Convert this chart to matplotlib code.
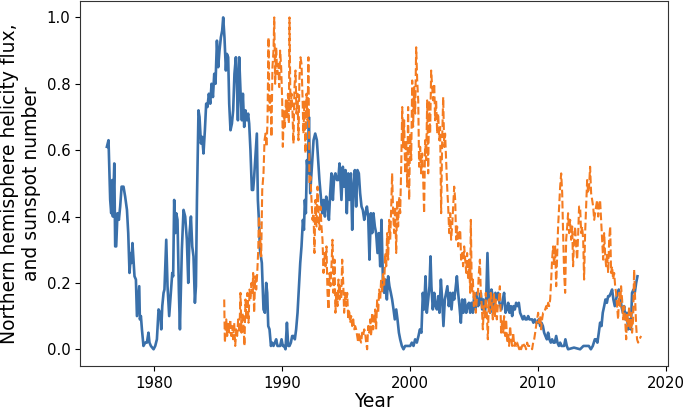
import numpy as np
import matplotlib
matplotlib.use('Agg')
import matplotlib.pyplot as plt

# helicity flux (northern hemisphere), normalised
helicity_year = [
    1976.30, 1976.43, 1976.56, 1976.64, 1976.72, 1976.77, 1976.88, 1976.95, 1977.03, 1977.13,
    1977.24, 1977.34, 1977.45, 1977.60, 1977.73, 1977.87, 1977.97, 1978.07, 1978.18, 1978.23,
    1978.30, 1978.38, 1978.46, 1978.57, 1978.65, 1978.75, 1978.83, 1978.88, 1978.96, 1979.04,
    1979.16, 1979.30, 1979.43, 1979.55, 1979.63, 1979.74, 1979.95, 1980.08, 1980.21, 1980.34,
    1980.47, 1980.55, 1980.63, 1980.73, 1980.80, 1980.94, 1981.04, 1981.17, 1981.30, 1981.41,
    1981.48, 1981.56, 1981.64, 1981.72, 1981.82, 1981.93, 1982.01, 1982.16, 1982.29, 1982.42,
    1982.55, 1982.66, 1982.76, 1982.87, 1982.97, 1983.07, 1983.18, 1983.26, 1983.34, 1983.46,
    1983.54, 1983.65, 1983.75, 1983.85, 1983.96, 1984.06, 1984.16, 1984.27, 1984.38, 1984.48,
    1984.59, 1984.69, 1984.79, 1984.90, 1985.00, 1985.10, 1985.21, 1985.31, 1985.39, 1985.49,
    1985.60, 1985.68, 1985.78, 1985.86, 1985.96, 1986.07, 1986.17, 1986.27, 1986.38, 1986.46,
    1986.54, 1986.64, 1986.74, 1986.85, 1986.93, 1987.03, 1987.13, 1987.24, 1987.34, 1987.42,
    1987.52, 1987.63, 1987.73, 1987.81, 1987.91, 1988.02, 1988.10, 1988.18, 1988.26, 1988.41,
    1988.54, 1988.65, 1988.75, 1988.83, 1988.91, 1989.01, 1989.12, 1989.22, 1989.32, 1989.43,
    1989.53, 1989.63, 1989.74, 1989.84, 1989.95, 1990.05, 1990.16, 1990.26, 1990.37, 1990.47,
    1990.57, 1990.68, 1990.78, 1990.88, 1990.99, 1991.09, 1991.20, 1991.30, 1991.41, 1991.51,
    1991.62, 1991.70, 1991.77, 1991.85, 1991.93, 1992.01, 1992.09, 1992.19, 1992.32, 1992.45,
    1992.58, 1992.71, 1992.81, 1992.91, 1993.02, 1993.13, 1993.23, 1993.34, 1993.44, 1993.54,
    1993.65, 1993.75, 1993.85, 1993.96, 1994.06, 1994.16, 1994.27, 1994.38, 1994.48, 1994.63,
    1994.74, 1994.84, 1994.95, 1995.05, 1995.16, 1995.26, 1995.37, 1995.47, 1995.57, 1995.68,
    1995.78, 1995.88, 1995.99, 1996.09, 1996.20, 1996.30, 1996.41, 1996.51, 1996.62, 1996.72,
    1996.82, 1996.93, 1997.03, 1997.13, 1997.24, 1997.34, 1997.45, 1997.55, 1997.66, 1997.76,
    1997.87, 1997.97, 1998.07, 1998.18, 1998.28, 1998.38, 1998.49, 1998.59, 1998.70, 1998.80,
    1998.91, 1999.01, 1999.12, 1999.22, 1999.35, 1999.48, 1999.61, 1999.74, 1999.87, 2000.00,
    2000.13, 2000.26, 2000.39, 2000.52, 2000.65, 2000.76, 2000.88, 2000.99, 2001.09, 2001.20,
    2001.30, 2001.41, 2001.51, 2001.59, 2001.66, 2001.77, 2001.88, 2001.98, 2002.09, 2002.19,
    2002.29, 2002.40, 2002.50, 2002.60, 2002.71, 2002.81, 2002.91, 2003.02, 2003.13, 2003.23,
    2003.34, 2003.44, 2003.54, 2003.65, 2003.75, 2003.85, 2003.96, 2004.06, 2004.16, 2004.27,
    2004.38, 2004.48, 2004.59, 2004.69, 2004.79, 2004.90, 2005.00, 2005.10, 2005.21, 2005.31,
    2005.41, 2005.52, 2005.63, 2005.73, 2005.84, 2005.94, 2006.04, 2006.15, 2006.25, 2006.35,
    2006.46, 2006.56, 2006.66, 2006.77, 2006.88, 2006.98, 2007.13, 2007.24, 2007.34, 2007.45,
    2007.55, 2007.66, 2007.76, 2007.87, 2007.97, 2008.07, 2008.18, 2008.28, 2008.38, 2008.49,
    2008.59, 2008.70, 2008.80, 2008.91, 2009.01, 2009.12, 2009.22, 2009.32, 2009.43, 2009.53,
    2009.63, 2009.74, 2009.84, 2009.95, 2010.05, 2010.16, 2010.26, 2010.37, 2010.47, 2010.57,
    2010.68, 2010.78, 2010.88, 2010.99, 2011.09, 2011.20, 2011.30, 2011.41, 2011.51, 2011.62,
    2011.72, 2011.82, 2011.93, 2012.03, 2012.13, 2012.24, 2012.34, 2012.80, 2013.28, 2013.54,
    2013.80, 2013.96, 2014.12, 2014.27, 2014.43, 2014.53, 2014.63, 2014.74, 2014.84, 2014.95,
    2015.05, 2015.16, 2015.26, 2015.37, 2015.47, 2015.57, 2015.68, 2015.78, 2015.88, 2015.99,
    2016.09, 2016.20, 2016.30, 2016.41, 2016.51, 2016.62, 2016.72, 2016.82, 2016.93, 2017.03,
    2017.13, 2017.24, 2017.34, 2017.45, 2017.55, 2017.66, 2017.76,
]
helicity = [
    0.61, 0.63, 0.45, 0.41, 0.51, 0.40, 0.56, 0.31, 0.31, 0.41,
    0.39, 0.43, 0.49, 0.49, 0.46, 0.42, 0.35, 0.23, 0.29, 0.26,
    0.32, 0.27, 0.22, 0.21, 0.10, 0.15, 0.19, 0.09, 0.10, 0.06,
    0.01, 0.02, 0.02, 0.05, 0.02, 0.01, 0.00, 0.01, 0.03, 0.12,
    0.11, 0.06, 0.13, 0.17, 0.18, 0.33, 0.19, 0.10, 0.17, 0.23,
    0.22, 0.45, 0.35, 0.41, 0.39, 0.17, 0.06, 0.30, 0.42, 0.40,
    0.33, 0.20, 0.35, 0.40, 0.31, 0.28, 0.14, 0.19, 0.45, 0.72,
    0.70, 0.62, 0.64, 0.59, 0.66, 0.74, 0.73, 0.77, 0.74, 0.80,
    0.76, 0.83, 0.80, 0.93, 0.85, 0.90, 0.94, 0.96, 1.00, 0.94,
    0.84, 0.89, 0.88, 0.74, 0.66, 0.68, 0.72, 0.83, 0.88, 0.80,
    0.69, 0.88, 0.78, 0.69, 0.77, 0.67, 0.72, 0.69, 0.71, 0.68,
    0.60, 0.48, 0.48, 0.52, 0.58, 0.65, 0.45, 0.39, 0.30, 0.26,
    0.12, 0.11, 0.20, 0.17, 0.07, 0.06, 0.01, 0.02, 0.01, 0.02,
    0.03, 0.01, 0.01, 0.01, 0.03, 0.01, 0.01, 0.00, 0.08, 0.01,
    0.01, 0.02, 0.04, 0.04, 0.03, 0.06, 0.11, 0.18, 0.26, 0.31,
    0.39, 0.36, 0.45, 0.41, 0.57, 0.53, 0.70, 0.47, 0.55, 0.63,
    0.65, 0.63, 0.57, 0.51, 0.46, 0.41, 0.45, 0.40, 0.46, 0.44,
    0.39, 0.47, 0.53, 0.45, 0.52, 0.53, 0.51, 0.51, 0.56, 0.45,
    0.55, 0.49, 0.54, 0.41, 0.53, 0.45, 0.53, 0.36, 0.49, 0.54,
    0.43, 0.54, 0.53, 0.47, 0.43, 0.42, 0.39, 0.41, 0.43, 0.40,
    0.27, 0.41, 0.35, 0.41, 0.37, 0.35, 0.29, 0.35, 0.25, 0.39,
    0.21, 0.17, 0.21, 0.15, 0.22, 0.19, 0.17, 0.15, 0.12, 0.09,
    0.12, 0.09, 0.05, 0.03, 0.01, 0.00, 0.01, 0.01, 0.01, 0.01,
    0.02, 0.01, 0.03, 0.02, 0.04, 0.06, 0.05, 0.17, 0.12, 0.22,
    0.11, 0.15, 0.19, 0.28, 0.19, 0.12, 0.17, 0.13, 0.12, 0.16,
    0.11, 0.21, 0.15, 0.07, 0.15, 0.17, 0.19, 0.13, 0.17, 0.12,
    0.17, 0.15, 0.18, 0.22, 0.17, 0.13, 0.08, 0.15, 0.11, 0.15,
    0.11, 0.13, 0.14, 0.11, 0.14, 0.11, 0.16, 0.12, 0.17, 0.13,
    0.14, 0.17, 0.12, 0.15, 0.11, 0.15, 0.29, 0.15, 0.11, 0.18,
    0.16, 0.11, 0.17, 0.15, 0.17, 0.14, 0.12, 0.15, 0.17, 0.11,
    0.12, 0.14, 0.11, 0.13, 0.10, 0.13, 0.12, 0.14, 0.13, 0.14,
    0.11, 0.10, 0.09, 0.10, 0.09, 0.09, 0.10, 0.09, 0.09, 0.09,
    0.08, 0.09, 0.08, 0.08, 0.09, 0.07, 0.08, 0.07, 0.05, 0.04,
    0.03, 0.05, 0.03, 0.02, 0.03, 0.02, 0.02, 0.04, 0.02, 0.01,
    0.02, 0.01, 0.01, 0.01, 0.03, 0.01, 0.00, 0.005, 0.00, 0.01,
    0.01, 0.01, 0.00, 0.01, 0.03, 0.03, 0.02, 0.05, 0.08, 0.07,
    0.11, 0.13, 0.15, 0.14, 0.16, 0.16, 0.17, 0.18, 0.15, 0.13,
    0.15, 0.17, 0.18, 0.16, 0.13, 0.11, 0.13, 0.09, 0.11, 0.06,
    0.09, 0.06, 0.17, 0.18, 0.17, 0.20, 0.22,
]

# sunspot number, normalised
sunspot_year = [
    1985.47, 1985.52, 1985.63, 1985.70, 1985.78, 1985.86, 1985.94, 1986.02, 1986.09, 1986.17,
    1986.25, 1986.33, 1986.41, 1986.48, 1986.56, 1986.66, 1986.74, 1986.82, 1986.90, 1986.98,
    1987.05, 1987.13, 1987.21, 1987.29, 1987.37, 1987.45, 1987.52, 1987.60, 1987.68, 1987.73,
    1987.81, 1987.89, 1987.97, 1988.05, 1988.13, 1988.18, 1988.26, 1988.36, 1988.44, 1988.54,
    1988.62, 1988.70, 1988.77, 1988.85, 1988.93, 1989.01, 1989.09, 1989.16, 1989.24, 1989.32,
    1989.38, 1989.45, 1989.53, 1989.61, 1989.69, 1989.77, 1989.84, 1989.92, 1990.00, 1990.05,
    1990.13, 1990.21, 1990.29, 1990.37, 1990.45, 1990.52, 1990.57, 1990.65, 1990.73, 1990.80,
    1990.88, 1990.96, 1991.04, 1991.12, 1991.20, 1991.27, 1991.35, 1991.43, 1991.51, 1991.59,
    1991.66, 1991.74, 1991.82, 1991.90, 1991.98, 1992.05, 1992.13, 1992.21, 1992.29, 1992.37,
    1992.45, 1992.52, 1992.60, 1992.68, 1992.76, 1992.84, 1992.91, 1992.99, 1993.07, 1993.15,
    1993.23, 1993.30, 1993.38, 1993.46, 1993.54, 1993.62, 1993.70, 1993.77, 1993.85, 1993.93,
    1994.01, 1994.09, 1994.16, 1994.24, 1994.32, 1994.40, 1994.48, 1994.53, 1994.61, 1994.69,
    1994.77, 1994.84, 1994.92, 1995.00, 1995.08, 1995.16, 1995.23, 1995.31, 1995.39, 1995.47,
    1995.55, 1995.63, 1995.70, 1995.78, 1995.86, 1995.94, 1996.02, 1996.09, 1996.17, 1996.25,
    1996.33, 1996.41, 1996.48, 1996.56, 1996.64, 1996.72, 1996.80, 1996.88, 1996.95, 1997.03,
    1997.11, 1997.19, 1997.27, 1997.34, 1997.42, 1997.50, 1997.58, 1997.66, 1997.73, 1997.81,
    1997.89, 1997.97, 1998.05, 1998.13, 1998.20, 1998.28, 1998.36, 1998.44, 1998.52, 1998.59,
    1998.67, 1998.75, 1998.83, 1998.91, 1998.98, 1999.06, 1999.14, 1999.22, 1999.30, 1999.38,
    1999.45, 1999.53, 1999.61, 1999.69, 1999.77, 1999.84, 1999.92, 2000.00, 2000.08, 2000.16,
    2000.23, 2000.31, 2000.39, 2000.47, 2000.55, 2000.63, 2000.70, 2000.78, 2000.86, 2000.94,
    2001.02, 2001.09, 2001.17, 2001.25, 2001.33, 2001.41, 2001.48, 2001.56, 2001.64, 2001.72,
    2001.80, 2001.88, 2001.95, 2002.03, 2002.11, 2002.19, 2002.27, 2002.34, 2002.42, 2002.50,
    2002.58, 2002.66, 2002.73, 2002.81, 2002.89, 2002.97, 2003.05, 2003.13, 2003.20, 2003.28,
    2003.36, 2003.44, 2003.52, 2003.59, 2003.67, 2003.75, 2003.83, 2003.91, 2003.98, 2004.06,
    2004.14, 2004.22, 2004.30, 2004.38, 2004.45, 2004.53, 2004.61, 2004.69, 2004.74, 2004.82,
    2004.90, 2004.98, 2005.05, 2005.13, 2005.21, 2005.29, 2005.37, 2005.45, 2005.52, 2005.60,
    2005.68, 2005.76, 2005.84, 2005.91, 2005.99, 2006.07, 2006.15, 2006.23, 2006.30, 2006.38,
    2006.46, 2006.54, 2006.62, 2006.70, 2006.77, 2006.85, 2006.93, 2007.01, 2007.11, 2007.19,
    2007.27, 2007.34, 2007.42, 2007.50, 2007.58, 2007.66, 2007.73, 2007.81, 2007.89, 2007.97,
    2008.05, 2008.13, 2008.20, 2008.28, 2008.36, 2008.44, 2008.52, 2008.59, 2008.67, 2008.75,
    2008.83, 2008.91, 2008.98, 2009.06, 2009.14, 2009.22, 2009.30, 2009.38, 2009.45, 2009.53,
    2009.61, 2009.69, 2009.77, 2009.84, 2009.92, 2010.00, 2010.08, 2010.16, 2010.23, 2010.31,
    2010.39, 2010.47, 2010.55, 2010.63, 2010.70, 2010.78, 2010.86, 2010.94, 2011.02, 2011.09,
    2011.17, 2011.25, 2011.33, 2011.41, 2011.48, 2011.56, 2011.64, 2011.72, 2011.80, 2011.88,
    2011.95, 2012.03, 2012.11, 2012.19, 2012.27, 2012.34, 2012.42, 2012.50, 2012.58, 2012.66,
    2012.73, 2012.81, 2012.89, 2012.97, 2013.05, 2013.13, 2013.20, 2013.28, 2013.36, 2013.44,
    2013.52, 2013.59, 2013.67, 2013.75, 2013.83, 2013.91, 2013.98, 2014.06, 2014.14, 2014.22,
    2014.30, 2014.38, 2014.45, 2014.53, 2014.61, 2014.69, 2014.77, 2014.84, 2014.92, 2015.00,
    2015.08, 2015.16, 2015.23, 2015.31, 2015.39, 2015.47, 2015.55, 2015.63, 2015.70, 2015.78,
    2015.86, 2015.94, 2016.02, 2016.09, 2016.17, 2016.25, 2016.33, 2016.41, 2016.48, 2016.56,
    2016.64, 2016.72, 2016.80, 2016.88, 2016.95, 2017.03, 2017.11, 2017.19, 2017.27, 2017.34,
    2017.42, 2017.50, 2017.58, 2017.66, 2017.73, 2017.81, 2017.91, 2018.05,
]
sunspots = [
    0.15, 0.02, 0.09, 0.04, 0.08, 0.05, 0.09, 0.04, 0.07, 0.03,
    0.08, 0.01, 0.06, 0.04, 0.09, 0.05, 0.17, 0.05, 0.11, 0.07,
    0.01, 0.15, 0.09, 0.17, 0.08, 0.18, 0.15, 0.20, 0.17, 0.23,
    0.11, 0.22, 0.18, 0.23, 0.30, 0.40, 0.35, 0.28, 0.48, 0.53,
    0.63, 0.65, 0.61, 0.68, 0.94, 0.72, 0.77, 0.64, 0.85, 0.90,
    1.00, 0.80, 0.91, 0.83, 0.86, 0.79, 0.90, 0.85, 0.75, 0.61,
    0.72, 0.67, 0.75, 0.70, 0.77, 0.68, 1.00, 0.72, 0.77, 0.72,
    0.62, 0.79, 0.84, 0.71, 0.77, 0.63, 0.82, 0.88, 0.86, 0.76,
    0.65, 0.75, 0.59, 0.77, 0.69, 0.88, 0.50, 0.52, 0.45, 0.39,
    0.41, 0.29, 0.45, 0.37, 0.49, 0.41, 0.36, 0.43, 0.37, 0.33,
    0.23, 0.29, 0.25, 0.31, 0.17, 0.12, 0.23, 0.19, 0.25, 0.33,
    0.17, 0.27, 0.11, 0.17, 0.13, 0.21, 0.15, 0.19, 0.15, 0.27,
    0.20, 0.11, 0.17, 0.13, 0.17, 0.09, 0.12, 0.08, 0.10, 0.07,
    0.09, 0.06, 0.07, 0.06, 0.04, 0.02, 0.05, 0.03, 0.02, 0.05,
    0.04, 0.06, 0.05, 0.02, 0.00, 0.07, 0.05, 0.09, 0.04, 0.11,
    0.06, 0.09, 0.12, 0.06, 0.15, 0.11, 0.18, 0.15, 0.21, 0.17,
    0.23, 0.19, 0.29, 0.25, 0.35, 0.27, 0.39, 0.33, 0.43, 0.53,
    0.41, 0.35, 0.43, 0.29, 0.45, 0.37, 0.46, 0.41, 0.55, 0.73,
    0.61, 0.69, 0.53, 0.63, 0.49, 0.73, 0.45, 0.65, 0.57, 0.81,
    0.67, 0.79, 0.71, 0.91, 0.81, 0.75, 0.55, 0.61, 0.53, 0.59,
    0.51, 0.41, 0.63, 0.57, 0.75, 0.53, 0.75, 0.65, 0.84, 0.79,
    0.75, 0.80, 0.69, 0.75, 0.65, 0.71, 0.63, 0.67, 0.41, 0.63,
    0.76, 0.61, 0.65, 0.57, 0.49, 0.43, 0.35, 0.41, 0.33, 0.37,
    0.43, 0.49, 0.45, 0.33, 0.37, 0.31, 0.35, 0.36, 0.27, 0.29,
    0.25, 0.31, 0.27, 0.23, 0.29, 0.21, 0.27, 0.17, 0.39, 0.17,
    0.21, 0.13, 0.17, 0.11, 0.15, 0.17, 0.23, 0.27, 0.17, 0.13,
    0.06, 0.13, 0.09, 0.17, 0.11, 0.03, 0.15, 0.11, 0.17, 0.13,
    0.09, 0.17, 0.10, 0.15, 0.09, 0.13, 0.15, 0.19, 0.05, 0.09,
    0.05, 0.10, 0.04, 0.09, 0.02, 0.05, 0.01, 0.07, 0.03, 0.01,
    0.05, 0.01, 0.02, 0.01, 0.02, 0.01, 0.00, 0.01, 0.00, 0.01,
    0.02, 0.01, 0.01, 0.00, 0.02, 0.01, 0.01, 0.01, 0.01, 0.00,
    0.02, 0.03, 0.05, 0.07, 0.09, 0.11, 0.08, 0.10, 0.06, 0.09,
    0.11, 0.11, 0.12, 0.13, 0.12, 0.14, 0.13, 0.15, 0.21, 0.27,
    0.31, 0.25, 0.31, 0.19, 0.27, 0.37, 0.43, 0.49, 0.53, 0.47,
    0.35, 0.23, 0.17, 0.33, 0.37, 0.41, 0.35, 0.39, 0.33, 0.37,
    0.25, 0.33, 0.37, 0.31, 0.27, 0.35, 0.43, 0.43, 0.35, 0.37,
    0.33, 0.21, 0.35, 0.43, 0.51, 0.47, 0.49, 0.55, 0.47, 0.45,
    0.43, 0.39, 0.41, 0.43, 0.45, 0.40, 0.43, 0.45, 0.39, 0.33,
    0.27, 0.35, 0.29, 0.25, 0.29, 0.23, 0.33, 0.37, 0.23, 0.25,
    0.21, 0.23, 0.19, 0.17, 0.13, 0.09, 0.17, 0.13, 0.19, 0.15,
    0.09, 0.13, 0.09, 0.03, 0.11, 0.07, 0.13, 0.06, 0.11, 0.05,
    0.09, 0.24, 0.15, 0.07, 0.03, 0.02, 0.03, 0.04,
]

fig = plt.figure(figsize=(6.85, 4.12), dpi=100)
ax = fig.add_axes([0.117, 0.112, 0.858, 0.886])

ax.plot(helicity_year, helicity, color='#3a70aa', linewidth=1.9)
ax.plot(sunspot_year, sunspots, color='#f47b20', linewidth=1.5, linestyle='--')

ax.set_xticks([1980, 1990, 2000, 2010, 2020])
ax.set_yticks([0.0, 0.2, 0.4, 0.6, 0.8, 1.0])
ax.tick_params(labelsize=10.7)
for sp in ax.spines.values():
    sp.set_color('#333333')
ax.set_xlabel('Year', fontsize=13.5, labelpad=1)
ax.set_ylabel('Northern hemisphere helicity flux,\nand sunspot number', fontsize=13.5)

fig.savefig('out.png', dpi=100)
